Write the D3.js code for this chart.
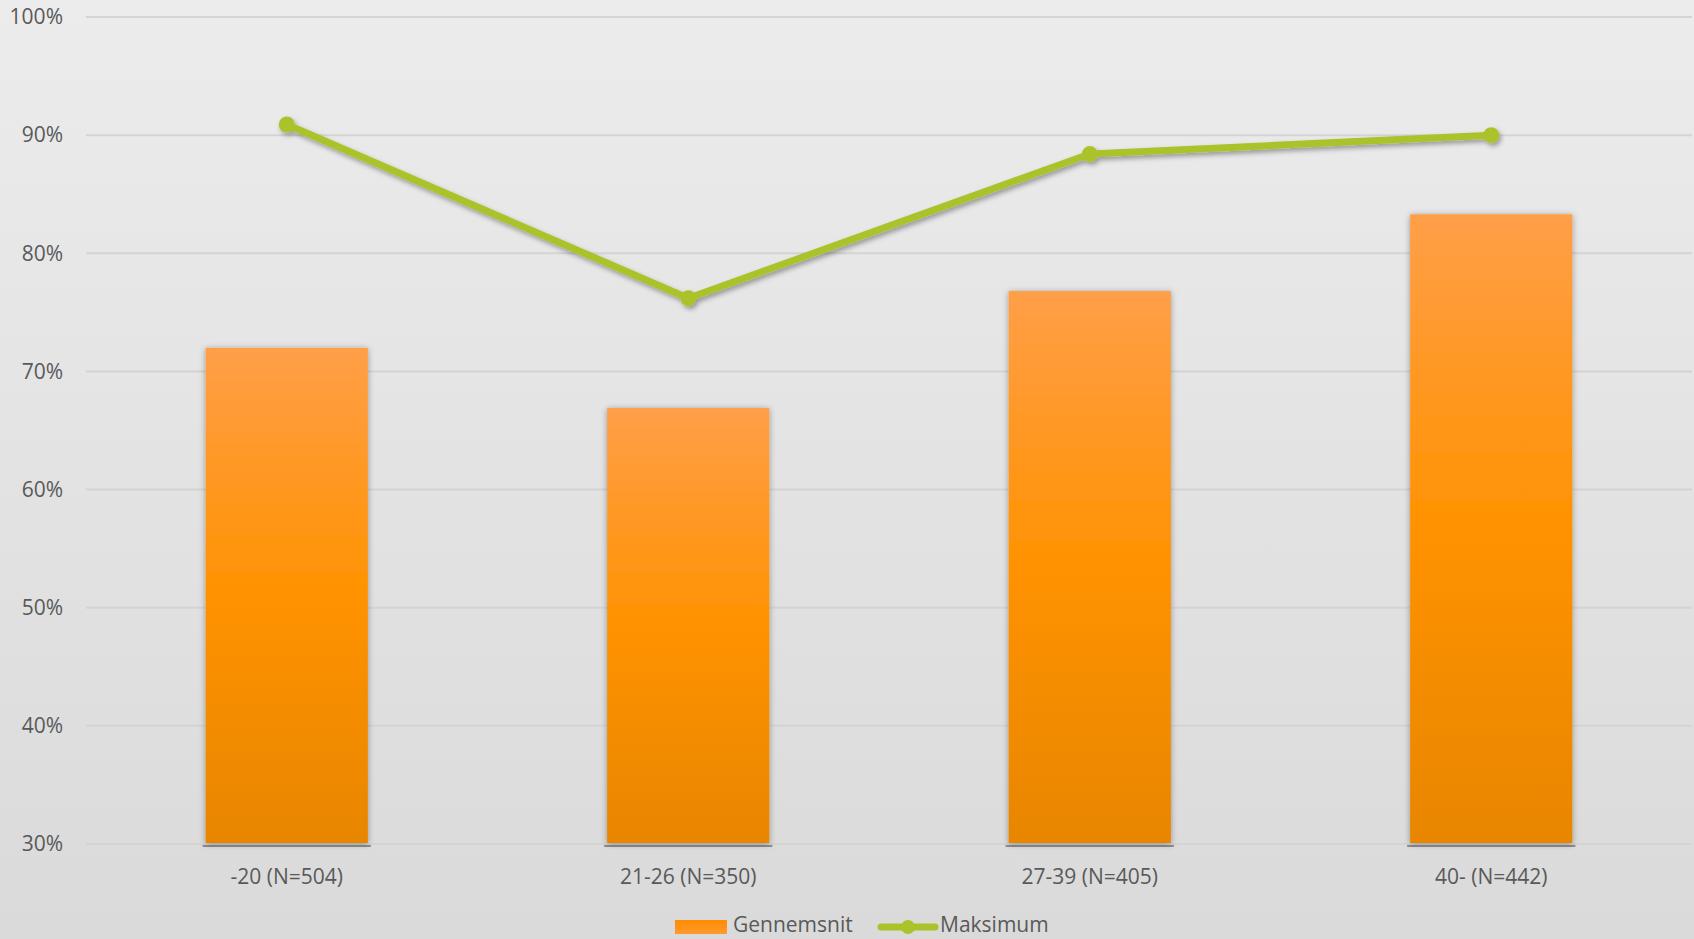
<!DOCTYPE html>
<html><head><meta charset="utf-8">
<script src="https://cdn.jsdelivr.net/npm/d3@7"></script>
<style>html,body{margin:0;padding:0;overflow:hidden;}svg{display:block;}</style>
</head><body>
<script>
const categories = ["-20 (N=504)", "21-26 (N=350)", "27-39 (N=405)", "40- (N=442)"];
const gennemsnit = [72.0, 66.9, 76.8, 83.3];
const maksimum = [90.9, 76.2, 88.4, 90.0];
const yTicks = [30, 40, 50, 60, 70, 80, 90, 100];
const seriesNames = ["Gennemsnit", "Maksimum"];

(function () {
const W = 1694, H = 939;
const FS = 21;
const svg = d3.select("body").append("svg").attr("width", W).attr("height", H);
const defs = svg.append("defs");

const bg = defs.append("linearGradient").attr("id","bg").attr("x1",0).attr("y1",0).attr("x2",0).attr("y2",1);
bg.append("stop").attr("offset","0%").attr("stop-color","#ececec");
bg.append("stop").attr("offset","100%").attr("stop-color","#dadada");

const bar = defs.append("linearGradient").attr("id","barg").attr("x1",0).attr("y1",0).attr("x2",0).attr("y2",1);
bar.append("stop").attr("offset","0%").attr("stop-color","#ff9f48");
bar.append("stop").attr("offset","50%").attr("stop-color","#ff9200");
bar.append("stop").attr("offset","100%").attr("stop-color","#e88600");

const leg = defs.append("linearGradient").attr("id","legg").attr("x1",0).attr("y1",0).attr("x2",0).attr("y2",1);
leg.append("stop").attr("offset","0%").attr("stop-color","#ff8c00");
leg.append("stop").attr("offset","100%").attr("stop-color","#ff9a30");

const sh = defs.append("filter").attr("id","shadow").attr("x","-20%").attr("y","-20%").attr("width","140%").attr("height","140%");
sh.append("feDropShadow").attr("dx",2).attr("dy",3).attr("stdDeviation",2.5).attr("flood-color","#000").attr("flood-opacity",0.35);
const shb = defs.append("filter").attr("id","bshadow").attr("x","-10%").attr("y","-10%").attr("width","120%").attr("height","120%");
shb.append("feDropShadow").attr("dx",0).attr("dy",1).attr("stdDeviation",3).attr("flood-color","#000").attr("flood-opacity",0.35);

svg.append("rect").attr("width",W).attr("height",H).attr("fill","url(#bg)");

const pl = 86, pr = 1692, pt = 17, pb = 844;
const x = d3.scaleBand().domain(categories).range([pl, pr]).padding(0);
const y = d3.scaleLinear().domain([30, 100]).range([pb, pt]);

// gridlines
svg.append("g").selectAll("line").data(yTicks).join("line")
  .attr("x1", pl).attr("x2", pr)
  .attr("y1", d => y(d)).attr("y2", d => y(d))
  .attr("stroke", "#d4d4d4").attr("stroke-width", 2);

// y axis labels
const yAxis = d3.axisLeft(y).tickValues(yTicks).tickFormat(d => d + "%").tickSize(0).tickPadding(0);
const ya = svg.append("g").attr("transform", `translate(${63},0)`).call(yAxis);
ya.select(".domain").remove();
ya.selectAll("text").attr("font-family","Open Sans").attr("font-size",FS).attr("fill","#595959");

// bars
const bw = x.bandwidth() * 0.404;
const cx = i => x(categories[i]) + x.bandwidth()/2;
svg.append("g").selectAll("rect").data(gennemsnit).join("rect")
  .attr("x", (d,i) => cx(i) - bw/2 - 3)
  .attr("y", y(30) + 1)
  .attr("width", bw + 6)
  .attr("height", 2)
  .attr("fill", "#7a7a7a").attr("opacity", 0.8);
svg.append("g").selectAll("rect").data(gennemsnit).join("rect")
  .attr("x", (d,i) => cx(i) - bw/2)
  .attr("y", d => y(d))
  .attr("width", bw)
  .attr("height", d => y(30) - y(d) - 1)
  .attr("fill", "url(#barg)")
  .attr("filter", "url(#bshadow)");

// x axis labels
const xAxis = d3.axisBottom(x).tickSize(0).tickPadding(0);
const xa = svg.append("g").attr("transform", `translate(0,${pb + 33})`).call(xAxis);
xa.select(".domain").remove();
xa.selectAll("text").attr("font-family","Open Sans").attr("font-size",FS).attr("fill","#595959").attr("dy","0.35em");

// line
const lineColor = "#acc22a";
const line = d3.line().x((d,i) => cx(i)).y(d => y(d));
const lg = svg.append("g").attr("filter","url(#shadow)");
lg.append("path").datum(maksimum).attr("d", line).attr("fill","none")
  .attr("stroke", lineColor).attr("stroke-width", 7).attr("stroke-linejoin","round");
lg.selectAll("circle").data(maksimum).join("circle")
  .attr("cx", (d,i) => cx(i))
  .attr("cy", d => y(d)).attr("r", 8).attr("fill", lineColor);

// legend
const lgd = svg.append("g");
lgd.append("rect").attr("x",675).attr("y",920).attr("width",52).attr("height",14).attr("fill","url(#legg)");
lgd.append("text").attr("x",733).attr("y",932).text(seriesNames[0])
  .attr("font-family","Open Sans").attr("font-size",FS).attr("fill","#595959");
lgd.append("line").attr("x1",881).attr("x2",935).attr("y1",927).attr("y2",927)
  .attr("stroke",lineColor).attr("stroke-width",7).attr("stroke-linecap","round");
lgd.append("circle").attr("cx",908).attr("cy",927).attr("r",7).attr("fill",lineColor);
lgd.append("text").attr("x",940).attr("y",932).text(seriesNames[1])
  .attr("font-family","Open Sans").attr("font-size",FS).attr("fill","#595959");
})();
</script>
</body></html>
